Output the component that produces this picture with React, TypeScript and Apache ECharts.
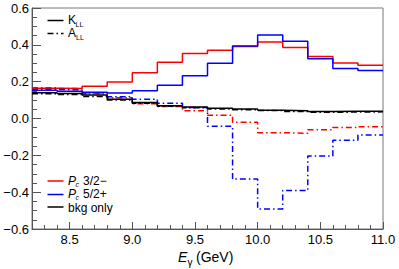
import React, { useEffect, useRef } from "react";
import * as echarts from "echarts";

// Bin edges (GeV) – last one closes the final bin
const binEdges = [8.2, 8.4, 8.6, 8.8, 9.0, 9.2, 9.4, 9.6, 9.8, 10.0, 10.2, 10.4, 10.6, 10.8, 11.0];

// K_LL (solid)
const kllPc32 = [0.164, 0.163, 0.175, 0.198, 0.249, 0.305, 0.353, 0.371, 0.391, 0.415, 0.385, 0.336, 0.302, 0.289];
const kllPc52 = [0.153, 0.148, 0.142, 0.138, 0.151, 0.181, 0.232, 0.300, 0.394, 0.454, 0.420, 0.324, 0.271, 0.260];
const kllBkg = [0.140, 0.136, 0.127, 0.105, 0.087, 0.069, 0.063, 0.055, 0.051, 0.045, 0.042, 0.038, 0.040, 0.040];

// A_LL (dash-dot)
const allPc32 = [0.167, 0.163, 0.135, 0.112, 0.080, 0.065, 0.042, 0.018, -0.020, -0.077, -0.080, -0.061, -0.049, -0.045];
const allPc52 = [0.158, 0.155, 0.140, 0.118, 0.104, 0.083, 0.060, -0.042, -0.329, -0.491, -0.391, -0.204, -0.118, -0.090];
const allBkg = [0.135, 0.130, 0.120, 0.100, 0.083, 0.066, 0.058, 0.052, 0.048, 0.043, 0.038, 0.034, 0.035, 0.036];

const xMajorTicks = [8.5, 9.0, 9.5, 10.0, 10.5, 11.0];
const xMinorTicks = [8.3, 8.4, 8.6, 8.7, 8.8, 8.9, 9.1, 9.2, 9.3, 9.4, 9.6, 9.7, 9.8, 9.9, 10.1, 10.2, 10.3, 10.4, 10.6, 10.7, 10.8, 10.9];

const FONT = "'Liberation Sans', Arial, Helvetica, sans-serif";
const DASHDOT = [6, 3, 1.5, 3];

function histData(vals: number[]) {
  return binEdges.map((e, i) => [e, i < vals.length ? vals[i] : vals[vals.length - 1]]);
}

export default function App() {
  const ref = useRef<HTMLDivElement>(null);
  useEffect(() => {
    if (!ref.current) return;
    const chart = echarts.init(ref.current, undefined, { renderer: "svg" });
    const mk = (name: string, vals: number[], color: string, dashed: boolean, z: number) => ({
      name,
      type: "line",
      step: "end",
      data: histData(vals),
      showSymbol: false,
      symbol: "none",
      z,
      lineStyle: { color, width: 1.5, type: dashed ? DASHDOT : "solid" },
    });
    const axisGrey = "#555";
    chart.setOption({
      animation: false,
      backgroundColor: "#fff",
      grid: {
        left: 32,
        right: 16,
        top: 8,
        bottom: 40,
        show: true,
        borderColor: "#777",
        borderWidth: 1,
        outerBoundsMode: "none",
        containLabel: false,
      },
      xAxis: [
        {
          type: "value",
          min: 8.2,
          max: 11.0,
          axisLine: { show: true, onZero: false, lineStyle: { color: axisGrey, width: 1 } },
          axisTick: { show: true, inside: true, length: 7, customValues: xMajorTicks, lineStyle: { color: axisGrey } },
          axisLabel: {
            customValues: xMajorTicks,
            formatter: (v: number) => v.toFixed(1),
            fontFamily: FONT,
            fontSize: 13,
            color: "#000",
            margin: 4,
          },
          splitLine: { show: false },
        },
        {
          type: "value",
          min: 8.2,
          max: 11.0,
          position: "bottom",
          axisLine: { show: false, onZero: false },
          axisTick: { show: true, inside: true, length: 4, customValues: xMinorTicks, lineStyle: { color: axisGrey } },
          axisLabel: { show: false },
          splitLine: { show: false },
        },
      ],
      yAxis: {
        type: "value",
        min: -0.6,
        max: 0.6,
        interval: 0.2,
        axisLine: { show: true, onZero: false, lineStyle: { color: axisGrey, width: 1 } },
        axisTick: { show: true, inside: true, length: 9, lineStyle: { color: axisGrey } },
        minorTick: { show: true, splitNumber: 4, length: 5, lineStyle: { color: axisGrey } },
        axisLabel: {
          formatter: (v: number) => (v < -1e-9 ? "\u2212" : "") + Math.abs(v).toFixed(1),
          fontFamily: FONT,
          fontSize: 13,
          color: "#000",
          margin: 3,
        },
        splitLine: { show: false },
      },
      series: [
        mk("Pc 3/2− K_LL", kllPc32, "#ff0000", false, 3),
        mk("Pc 5/2+ K_LL", kllPc52, "#0000ff", false, 4),
        mk("bkg only K_LL", kllBkg, "#000000", false, 5),
        mk("Pc 3/2− A_LL", allPc32, "#ff0000", true, 3),
        mk("Pc 5/2+ A_LL", allPc52, "#0000ff", true, 4),
        mk("bkg only A_LL", allBkg, "#000000", true, 5),
      ],
      graphic: [
        // top legend
        { type: "line", shape: { x1: 47.5, y1: 20.5, x2: 63.5, y2: 20.5 }, style: { stroke: "#000", lineWidth: 1.5 } },
        { type: "text", x: 68, y: 19.5, style: { text: "K", font: `12px ${FONT}`, fill: "#000", textVerticalAlign: "middle" } },
        { type: "text", x: 75.5, y: 24.5, style: { text: "LL", font: `7px ${FONT}`, fill: "#000", textVerticalAlign: "middle" } },
        { type: "line", shape: { x1: 47.5, y1: 33.5, x2: 63.5, y2: 33.5 }, style: { stroke: "#000", lineWidth: 1.5, lineDash: DASHDOT } },
        { type: "text", x: 68, y: 32.5, style: { text: "A", font: `12px ${FONT}`, fill: "#000", textVerticalAlign: "middle" } },
        { type: "text", x: 76, y: 37.5, style: { text: "LL", font: `7px ${FONT}`, fill: "#000", textVerticalAlign: "middle" } },
        // bottom legend
        { type: "line", shape: { x1: 47.5, y1: 181, x2: 63.5, y2: 181 }, style: { stroke: "#ff0000", lineWidth: 1.5 } },
        { type: "text", x: 68, y: 180.5, style: { text: "P", font: `italic 12px ${FONT}`, fill: "#000", textVerticalAlign: "middle" } },
        { type: "text", x: 75.5, y: 184, style: { text: "c", font: `italic 7px ${FONT}`, fill: "#000", textVerticalAlign: "middle" } },
        { type: "text", x: 83, y: 180.5, style: { text: "3/2\u2212", font: `12px ${FONT}`, fill: "#000", textVerticalAlign: "middle" } },
        { type: "line", shape: { x1: 47.5, y1: 194.5, x2: 63.5, y2: 194.5 }, style: { stroke: "#0000ff", lineWidth: 1.5 } },
        { type: "text", x: 68, y: 194, style: { text: "P", font: `italic 12px ${FONT}`, fill: "#000", textVerticalAlign: "middle" } },
        { type: "text", x: 75.5, y: 197, style: { text: "c", font: `italic 7px ${FONT}`, fill: "#000", textVerticalAlign: "middle" } },
        { type: "text", x: 83, y: 194, style: { text: "5/2+", font: `12px ${FONT}`, fill: "#000", textVerticalAlign: "middle" } },
        { type: "line", shape: { x1: 47.5, y1: 207, x2: 63.5, y2: 207 }, style: { stroke: "#000", lineWidth: 1.5 } },
        { type: "text", x: 68, y: 208, style: { text: "bkg only", font: `12px ${FONT}`, fill: "#000", textVerticalAlign: "middle" } },
        // x axis title
        { type: "text", x: 178, y: 257, style: { text: "E", font: `italic 14px ${FONT}`, fill: "#000", textVerticalAlign: "middle" } },
        { type: "text", x: 187.5, y: 262, style: { text: "\u03b3", font: `10px ${FONT}`, fill: "#000", textVerticalAlign: "middle" } },
        { type: "text", x: 196, y: 257, style: { text: "(GeV)", font: `14px ${FONT}`, fill: "#000", textVerticalAlign: "middle" } },
      ],
    });
    return () => chart.dispose();
  }, []);
  return <div ref={ref} style={{ position: "fixed", left: 0, top: 0, width: 399, height: 269 }} />;
}
